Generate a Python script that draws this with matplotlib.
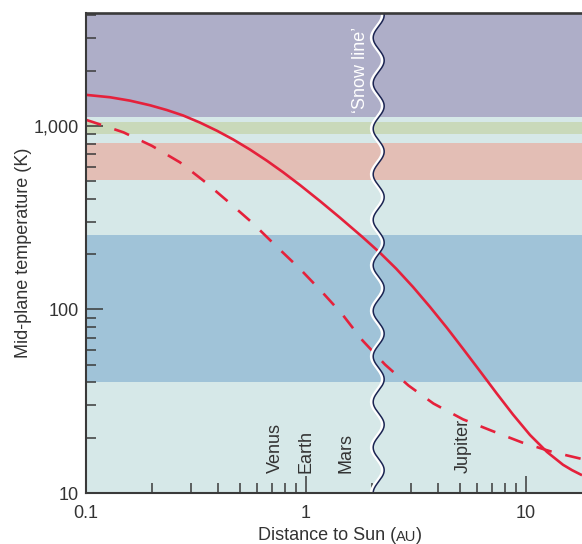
import numpy as np
import matplotlib
matplotlib.use("Agg")
import matplotlib.pyplot as plt
from matplotlib.ticker import FixedLocator, LogLocator, FuncFormatter, NullFormatter
from matplotlib.transforms import offset_copy

plt.rcParams['font.family'] = ['Liberation Sans', 'DejaVu Sans']

# ---- data ----
solid_au = [0.1, 0.1285, 0.1585, 0.1954, 0.2334, 0.2760, 0.3297, 0.3939, 0.4659, 0.5564,
            0.6647, 0.7862, 0.9391, 1.1579, 1.4275, 1.7968, 2.170, 2.5654, 3.0642, 3.6614,
            4.3743, 5.171, 6.179, 7.382, 8.729, 10.43, 12.46, 14.73, 16.19, 17.97]
solid_k = [1475.5, 1432, 1372, 1295, 1219, 1140, 1042, 940.4, 843.9, 742.8,
           645.5, 559.4, 475.9, 389.3, 316.0, 249.3, 203.4, 167.1, 132.6, 103.2,
           79.3, 61.1, 46.1, 34.7, 26.75, 20.7, 16.73, 14.25, 13.32, 12.5]

dashed_au = [0.1, 0.1070, 0.1481, 0.1995, 0.2675, 0.3475, 0.4467, 0.5742, 0.7342, 0.9343,
             1.1763, 1.4578, 1.8062, 2.2865, 2.9238, 3.7983, 5.171, 7.006, 9.590, 13.20, 17.97]
dashed_k = [1078, 1051, 921.8, 778, 632.6, 495.3, 382.9, 294.2, 220.4, 167.3,
            125.4, 94.5, 67.8, 50.1, 38.5, 30.7, 25.2, 21.8, 18.85, 16.73, 15.32]

# temperature bands (low, high, colour)
band_lo = [1120, 900, 505, 40]
band_hi = [1e5, 1055, 810, 253]
band_colors = ['#AEAEC8', '#C9D9BA', '#E3BEB5', '#A0C3D8']
bg_color = '#D6E8E8'

planets = ['Venus', 'Earth', 'Mars', 'Jupiter']
planet_au = [0.723, 1.0, 1.524, 5.2]

snow_au = 2.14
x_lim = (0.1, 17.97)
y_lim = (10, 4120)
x_ticks = [0.1, 1, 10]
y_ticks = [10, 100, 1000]

red = '#E5213B'
ink = '#333333'

fig = plt.figure(figsize=(5.82, 5.44), dpi=100)
ax = fig.add_axes([86/582, 51/544, 496/582, 480/544])
ax.set_xscale('log')
ax.set_yscale('log')
ax.set_xlim(*x_lim)
ax.set_ylim(*y_lim)
ax.set_facecolor(bg_color)

for lo, hi, c in zip(band_lo, band_hi, band_colors):
    ax.axhspan(lo, hi, color=c, lw=0, zorder=0)

ax.plot(solid_au, solid_k, color=red, lw=1.9, zorder=3, solid_capstyle='butt',
        solid_joinstyle='round')
ax.plot(dashed_au, dashed_k, color=red, lw=1.9, zorder=3,
        linestyle=(0, (6.0, 5.3)), dash_capstyle='butt', dash_joinstyle='round')

# wavy 'snow line'
t = np.linspace(0, np.log10(y_lim[1] / y_lim[0]), 1200)
wy = y_lim[0] * 10 ** t
amp = 0.025      # decades in x
period = 0.248   # decades in y
wx = snow_au * 10 ** (-amp * np.cos(2 * np.pi * t / period))
white_tr = offset_copy(ax.transData, fig=fig, x=-1.8, y=0, units='dots')
ax.plot(wx, wy, color='white', lw=2.2, transform=white_tr, zorder=4, clip_on=True)
ax.plot(wx, wy, color='#1B2452', lw=1.1, zorder=5)

ax.annotate("‘Snow line’", xy=(snow_au, y_lim[1]), xycoords='data',
            xytext=(-12.8, -10), textcoords='offset points',
            rotation=90, ha='center', va='top', color='white', fontsize=13, zorder=6)

xtr = ax.get_xaxis_transform()
for name, au in zip(planets, planet_au):
    ax.text(au, 0.0425, name, transform=xtr, rotation=90, ha='center', va='bottom',
            fontsize=13, color=ink, zorder=6)

# ticks
ax.xaxis.set_major_locator(FixedLocator(x_ticks))
ax.yaxis.set_major_locator(FixedLocator(y_ticks))
ax.xaxis.set_minor_locator(LogLocator(base=10, subs=np.arange(2, 10), numticks=20))
ax.yaxis.set_minor_locator(LogLocator(base=10, subs=np.arange(2, 10), numticks=20))
ax.xaxis.set_minor_formatter(NullFormatter())
ax.yaxis.set_minor_formatter(NullFormatter())
ax.xaxis.set_major_formatter(FuncFormatter(lambda v, p: f"{v:g}"))
ax.yaxis.set_major_formatter(FuncFormatter(lambda v, p: f"{v:,.0f}"))

spine_c = '#3A3A3A'
ax.tick_params(which='both', direction='in', color=spine_c, width=1.1,
               labelsize=13, labelcolor=ink, top=False, right=False)
ax.tick_params(which='major', length=12.2)
ax.tick_params(which='minor', length=7.2)
ax.tick_params(axis='x', which='major', pad=8.5)
ax.tick_params(axis='y', which='major', pad=5)

for s in ['left', 'bottom', 'top']:
    ax.spines[s].set_color(spine_c)
    ax.spines[s].set_linewidth(1.5)
    ax.spines[s].set_zorder(7)
ax.spines['top'].set_linewidth(1.9)
ax.spines['right'].set_visible(False)

ax.set_ylabel("Mid-plane temperature (K)", fontsize=13, color=ink, labelpad=1.5)

# x label with small-caps style unit
xl1 = fig.text(0, 0, "Distance to Sun (", fontsize=13, color=ink, ha='left', va='baseline')
xl2 = ax.annotate("AU", xy=(1, 0), xycoords=xl1, ha='left', va='bottom',
                  fontsize=10.5, color=ink, annotation_clip=False)
xl3 = ax.annotate(")", xy=(1, 0), xycoords=xl2, ha='left', va='bottom',
                  fontsize=13, color=ink, annotation_clip=False)
fig.canvas.draw()
r = fig.canvas.get_renderer()
w_total = (xl1.get_window_extent(r).width + xl2.get_window_extent(r).width +
           xl3.get_window_extent(r).width)
cx = 340
xl1.set_position(((cx - w_total / 2) / 582, 4 / 544))

fig.savefig("out.png", dpi=100)
